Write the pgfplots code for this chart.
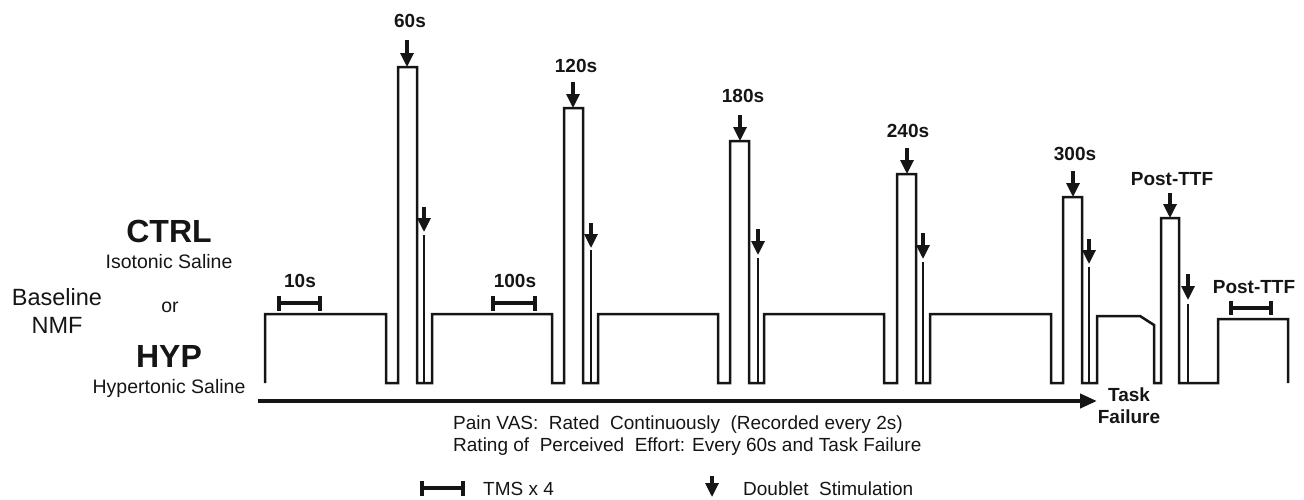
\documentclass[border=0pt]{standalone}
\usepackage{fontspec}
\setmainfont{Liberation Sans}
\usepackage{pgfplots}
\pgfplotsset{compat=1.18}
\usetikzlibrary{arrows.meta}
\definecolor{ink}{HTML}{151515}
\tikzset{
  darr/.style={ink, mark=none, line width=3.2pt, -{Triangle[width=13pt,length=14pt]}},
  blk/.style={ink, mark=none, line width=2.5pt, line join=miter},
  thin/.style={ink, mark=none, line width=2.2pt},
  brk/.style={ink, mark=none, line width=3.6pt},
  lbl/.style={anchor=base, inner sep=0pt, text=ink, font=\fontsize{19}{21}\selectfont\bfseries},
  txt/.style={inner sep=0pt, text=ink, font=\fontsize{19}{21}\selectfont},
}
\begin{document}
\begin{tikzpicture}
\begin{axis}[scale only axis, width=1304pt, height=499pt,
  xmin=0, xmax=1304, ymin=0, ymax=499, y dir=reverse,
  hide axis, clip=false,
]
\addplot[draw=none, mark=none] coordinates {(0,0) (1304,499)};
% waveform
\addplot[blk] coordinates {
(265,383) (265,314) (386,314) (386,383) (398,383) (398,67) (417,67) (417,383)
(432,383) (432,314) (552,314) (552,383) (564,383) (564,108) (583,108) (583,383)
(598,383) (598,314) (718,314) (718,383) (730,383) (730,141) (749,141) (749,383)
(764,383) (764,314) (884,314) (884,383) (897,383) (897,174) (916,174) (916,383)
(930,383) (930,314) (1051,314) (1051,383) (1063,383) (1063,197) (1082,197) (1082,383)
(1097,383) (1097,316) (1140,316) (1154,325) (1154,383) (1161,383) (1161,218) (1179,218) (1179,383)
(1218,383) (1218,319) (1288,319) (1288,383)};
% doublet lines
\addplot[thin] coordinates {(424,383) (424,235)};
\addplot[thin] coordinates {(591,383) (591,250)};
\addplot[thin] coordinates {(758,383) (758,258)};
\addplot[thin] coordinates {(923,383) (923,262)};
\addplot[thin] coordinates {(1089,383) (1089,267)};
\addplot[thin] coordinates {(1188,383) (1188,304)};
% top arrows
\addplot[darr] coordinates {(407,40) (407,67)};
\addplot[darr] coordinates {(573,82) (573,108)};
\addplot[darr] coordinates {(740,115) (740,141)};
\addplot[darr] coordinates {(907,148) (907,174)};
\addplot[darr] coordinates {(1073,171) (1073,197)};
\addplot[darr] coordinates {(1170,193) (1170,218)};
% doublet arrows
\addplot[darr] coordinates {(424,207) (424,232)};
\addplot[darr] coordinates {(591,223) (591,248)};
\addplot[darr] coordinates {(758,229) (758,255)};
\addplot[darr] coordinates {(923,233) (923,259)};
\addplot[darr] coordinates {(1089,239) (1089,264)};
\addplot[darr] coordinates {(1188,274) (1188,300)};
% TMS brackets
\addplot[brk] coordinates {(279,303) (320,303)};
\addplot[brk] coordinates {(279,296) (279,311)};
\addplot[brk] coordinates {(320,296) (320,311)};
\addplot[brk] coordinates {(493,303) (535,303)};
\addplot[brk] coordinates {(493,296) (493,311)};
\addplot[brk] coordinates {(535,296) (535,311)};
\addplot[brk] coordinates {(1231,308) (1271,308)};
\addplot[brk] coordinates {(1231,301) (1231,315)};
\addplot[brk] coordinates {(1271,301) (1271,315)};
% legend bracket
\addplot[brk] coordinates {(422,488) (463,488)};
\addplot[brk] coordinates {(422,481) (422,496)};
\addplot[brk] coordinates {(463,481) (463,496)};
% legend arrow
\addplot[darr] coordinates {(712,476) (712,497)};
% main time arrow
\addplot[ink, mark=none, line width=4pt, -{Triangle[width=14pt,length=17pt]}] coordinates {(258,401) (1097,401)};
% labels
\node[lbl] at (axis cs:410,27) {60s};
\node[lbl] at (axis cs:576,72) {120s};
\node[lbl] at (axis cs:743,102) {180s};
\node[lbl] at (axis cs:908,137) {240s};
\node[lbl] at (axis cs:1075,160) {300s};
\node[lbl] at (axis cs:1172,185) {Post-TTF};
\node[lbl] at (axis cs:1254,293) {Post-TTF};
\node[lbl] at (axis cs:300,287) {10s};
\node[lbl] at (axis cs:515,287) {100s};
\node[lbl] at (axis cs:1129,401) {Task};
\node[lbl] at (axis cs:1129,423) {Failure};
% left texts
\node[anchor=base, inner sep=0pt, text=ink, font=\fontsize{32}{34}\selectfont\bfseries] at (axis cs:169,242) {CTRL};
\node[anchor=base, inner sep=0pt, text=ink, font=\fontsize{19.5}{21}\selectfont] at (axis cs:169,268) {Isotonic Saline};
\node[anchor=base, inner sep=0pt, text=ink, font=\fontsize{23.5}{25}\selectfont] at (axis cs:57,305) {Baseline};
\node[anchor=base, inner sep=0pt, text=ink, font=\fontsize{23.5}{25}\selectfont] at (axis cs:57,333) {NMF};
\node[anchor=base, inner sep=0pt, text=ink, font=\fontsize{19.5}{21}\selectfont] at (axis cs:170,312) {or};
\node[anchor=base, inner sep=0pt, text=ink, font=\fontsize{32}{34}\selectfont\bfseries] at (axis cs:169,367) {HYP};
\node[anchor=base, inner sep=0pt, text=ink, font=\fontsize{19.5}{21}\selectfont] at (axis cs:169,393) {Hypertonic Saline};
% bottom texts
\node[txt, anchor=base west] at (axis cs:453,429) {Pain VAS:\ \ Rated\ \ Continuously\ \ (Recorded every 2s)};
\node[txt, anchor=base west] at (axis cs:453,451) {Rating of\ \ Perceived\ \ Effort: Every 60s and Task Failure};
\node[txt, anchor=base west] at (axis cs:483,495) {TMS x 4};
\node[txt, anchor=base west] at (axis cs:743,495) {Doublet\ \ Stimulation};
\end{axis}
\end{tikzpicture}
\end{document}
